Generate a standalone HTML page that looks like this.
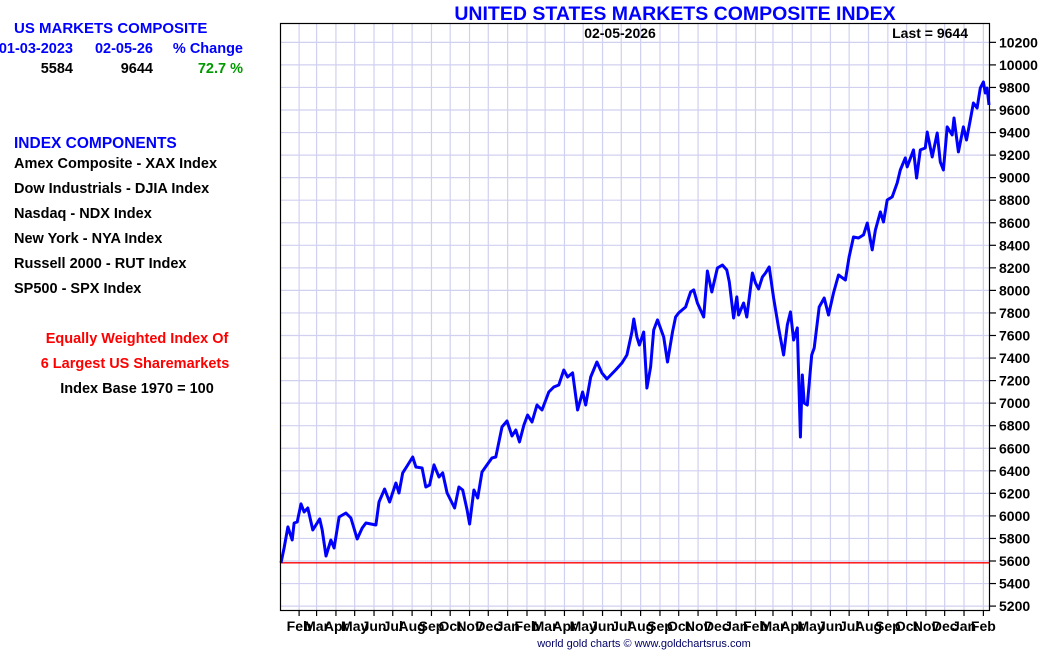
<!DOCTYPE html>
<html><head><meta charset="utf-8"><style>
html,body{margin:0;padding:0;background:#fff;width:1050px;height:650px;overflow:hidden}
svg{display:block;font-family:"Liberation Sans",Arial,sans-serif}
</style></head><body>
<svg id="chart" width="1050" height="650" viewBox="0 0 1050 650" xmlns="http://www.w3.org/2000/svg">
<g font-weight="bold" font-size="14.5">
<text x="14" y="33" fill="#0000ff" font-size="15">US MARKETS COMPOSITE</text>
<text x="73" y="53" fill="#0000ff" text-anchor="end">01-03-2023</text>
<text x="153" y="53" fill="#0000ff" text-anchor="end">02-05-26</text>
<text x="243" y="53" fill="#0000ff" text-anchor="end">% Change</text>
<text x="73" y="73" fill="#000" text-anchor="end">5584</text>
<text x="153" y="73" fill="#000" text-anchor="end">9644</text>
<text x="243" y="73" fill="#009900" text-anchor="end">72.7 %</text>
<text x="14" y="148" fill="#0000ff" font-size="15.5">INDEX COMPONENTS</text>
<text x="14" y="168">Amex Composite - XAX Index</text>
<text x="14" y="193">Dow Industrials - DJIA Index</text>
<text x="14" y="218">Nasdaq - NDX Index</text>
<text x="14" y="243">New York - NYA Index</text>
<text x="14" y="268">Russell 2000 - RUT Index</text>
<text x="14" y="293">SP500 - SPX Index</text>
<text x="137" y="343" fill="#ff0000" text-anchor="middle">Equally Weighted Index Of</text>
<text x="135" y="368" fill="#ff0000" text-anchor="middle">6 Largest US Sharemarkets</text>
<text x="137" y="393" fill="#000" text-anchor="middle">Index Base 1970 = 100</text>
</g>
<text x="675" y="20" fill="#0000ff" font-size="19.5" font-weight="bold" text-anchor="middle">UNITED STATES MARKETS COMPOSITE INDEX</text>
<g id="grid"></g>
<g id="xaxis"></g>
<g id="yaxis"></g>
<line id="baseline" stroke="#ff0000" stroke-width="1.3"/>
<polyline id="series" fill="none" stroke="#0000ff" stroke-width="3" stroke-linejoin="round"/>
<rect x="280.5" y="23.5" width="709" height="587" fill="none" stroke="#000" stroke-width="1.2"/>
<text x="620" y="38" font-size="14" font-weight="bold" text-anchor="middle">02-05-2026</text>
<text x="968" y="38" font-size="14" font-weight="bold" text-anchor="end">Last = 9644</text>
<text x="644" y="647" font-size="11" fill="#000066" text-anchor="middle">world gold charts © www.goldchartsrus.com</text>
</svg>
<script>
const days=[0,5,11,18,21,26,32,37,43,51,62,66,72,80,85,93,104,112,122,130,136,152,157,166,174,184,189,195,202,211,216,226,232,238,245,253,259,266,278,285,291,298,302,309,315,322,330,338,344,354,362,370,376,382,389,395,402,410,418,429,437,445,453,459,467,475,483,488,496,506,514,522,536,546,554,562,565,570,574,581,586,592,597,603,613,619,627,632,637,648,656,661,667,677,683,690,699,707,714,718,725,730,733,741,746,755,760,765,771,776,782,789,797,805,811,816,821,827,832,835,838,843,850,854,862,870,877,885,893,904,910,917,925,933,939,947,952,960,965,971,979,987,992,1000,1003,1013,1018,1024,1032,1035,1043,1051,1056,1061,1067,1075,1078,1085,1093,1098,1104,1109,1115,1120,1125,1128,1131,1134];
const values=[5584,5715,5902,5786,5937,5946,6106,6035,6070,5875,5973,5875,5644,5786,5715,5990,6026,5981,5795,5893,5937,5919,6123,6239,6123,6292,6203,6381,6443,6522,6434,6425,6256,6274,6452,6345,6381,6203,6070,6256,6230,6052,5928,6230,6159,6389,6452,6514,6522,6789,6842,6709,6762,6656,6806,6895,6833,6984,6939,7099,7143,7161,7294,7232,7268,6939,7099,6984,7232,7365,7268,7214,7294,7356,7427,7631,7746,7587,7516,7631,7134,7321,7649,7738,7587,7365,7631,7764,7800,7853,7986,8004,7888,7764,8172,7986,8199,8225,8181,8075,7755,7942,7782,7888,7764,8154,8066,8013,8119,8154,8208,7933,7667,7427,7693,7809,7560,7667,6700,7250,7001,6984,7427,7489,7853,7933,7782,7977,8137,8092,8296,8474,8465,8492,8598,8359,8536,8696,8607,8802,8829,8953,9068,9175,9095,9246,8997,9246,9263,9405,9183,9396,9139,9068,9450,9379,9529,9228,9450,9334,9512,9662,9618,9795,9849,9751,9795,9644];
const yTicks=[5200,5400,5600,5800,6000,6200,6400,6600,6800,7000,7200,7400,7600,7800,8000,8200,8400,8600,8800,9000,9200,9400,9600,9800,10000,10200];
const monthLabels=["Feb","Mar","Apr","May","Jun","Jul","Aug","Sep","Oct","Nov","Dec","Jan","Feb","Mar","Apr","May","Jun","Jul","Aug","Sep","Oct","Nov","Dec","Jan","Feb","Mar","Apr","May","Jun","Jul","Aug","Sep","Oct","Nov","Dec","Jan","Feb"];
const baseValue=5584;

const NS="http://www.w3.org/2000/svg";
const X0=281,X1=989,DMAX=1134;
function xScale(d){return X0+d*(X1-X0)/DMAX;}
function yScale(v){return 561-(v-5600)/200*22.55;}
const start=Date.UTC(2023,0,3);
const grid=document.getElementById('grid'),xa=document.getElementById('xaxis'),ya=document.getElementById('yaxis');
function mk(tag,attrs,parent){const e=document.createElementNS(NS,tag);for(const k in attrs)e.setAttribute(k,attrs[k]);parent.appendChild(e);return e;}
yTicks.forEach(v=>{
  const y=yScale(v);
  const g=mk('line',{x1:281,x2:989,y1:y,y2:y,stroke:'#d0d0f0','stroke-width':1.2},grid);
  
  
  const t=mk('line',{x1:990,x2:996,y1:y,y2:y,stroke:'#000','stroke-width':1.2},ya);
  
  
  const l=mk('text',{x:999,y:y+5,'font-size':14,'font-weight':'bold'},ya);
  l.textContent=v;
  
  
});
monthLabels.forEach((m,i)=>{
  const dt=Date.UTC(2023,1+i,1);
  const d=(dt-start)/86400000;
  const x=xScale(d);
  const g=mk('line',{x1:x,x2:x,y1:24,y2:610,stroke:'#d0d0f0','stroke-width':1.2},grid);
  
  
  const t=mk('line',{x1:x,x2:x,y1:611,y2:616,stroke:'#000','stroke-width':1.2},xa);
  
  
  const l=mk('text',{x:x,y:631,'font-size':14,'font-weight':'bold','text-anchor':'middle'},xa);
  l.textContent=m;
  
  
});
const b=document.getElementById('baseline');
b.setAttribute('x1',281);b.setAttribute('x2',989);
b.setAttribute('y1',yScale(baseValue));b.setAttribute('y2',yScale(baseValue));
document.getElementById('series').setAttribute('points',days.map((d,i)=>xScale(d).toFixed(1)+','+yScale(values[i]).toFixed(1)).join(' '));
</script>
</body></html>
